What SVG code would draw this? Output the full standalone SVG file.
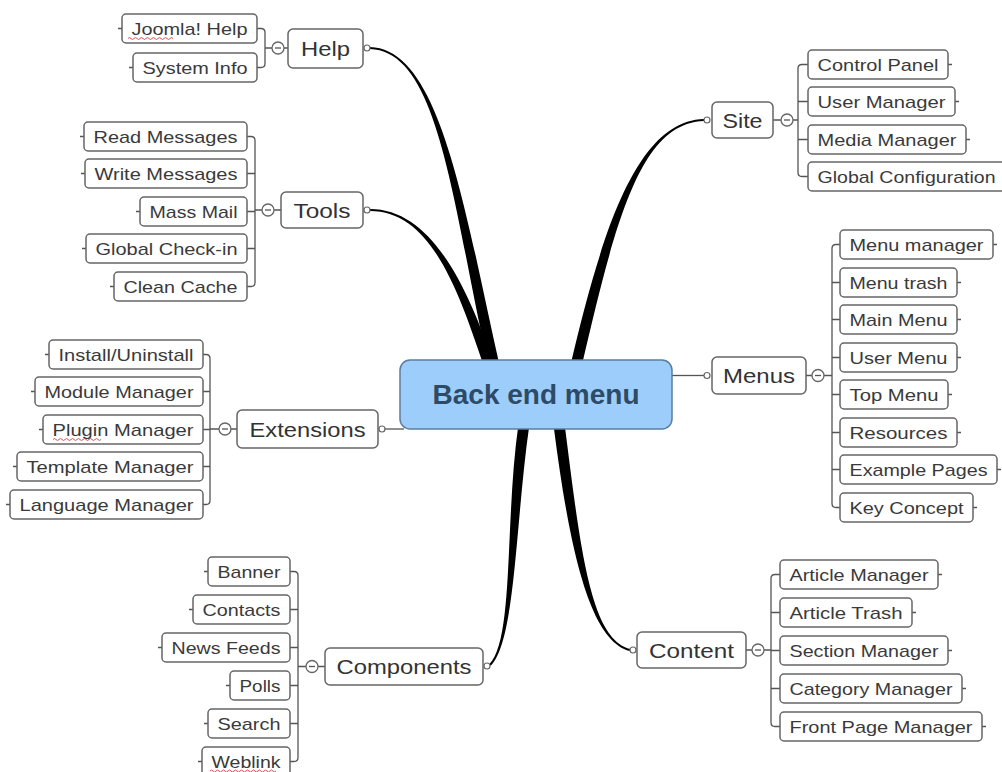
<svg xmlns="http://www.w3.org/2000/svg" width="1002" height="772" viewBox="0 0 1002 772">
<style>
.box{fill:#fff;stroke:#666;stroke-width:1.5}
.t{font-family:"Liberation Sans",Arial,sans-serif;font-size:17px;fill:#3a3a3a;text-anchor:middle}
.m{font-family:"Liberation Sans",Arial,sans-serif;font-size:21px;fill:#333;text-anchor:middle}
.ln{stroke:#555;stroke-width:1.3;fill:none}
.dot{fill:#fff;stroke:#666;stroke-width:1.2}
.col{fill:#fff;stroke:#666;stroke-width:1.3}
.thick{fill:#000}
.sq{fill:none;stroke:#e05050;stroke-width:1}
</style>
<rect width="1002" height="772" fill="#fff"/>
<g id="connectors">
  <path class="thick" d="M370,47 C440,49 463.4,203.8 499.4,364.8 L488.6,367.2 C452.6,206.2 440,51 370,49 Z"/>
  <path class="thick" d="M370,209 C430,209 466.8,283.4 493.8,364.4 L484.3,367.6 C457.3,286.6 430,211 370,211 Z"/>
  <path class="thick" d="M704,119 C640,121 604.6,218.8 570.6,364.8 L581.4,367.3 C615.4,221.3 640,123 704,121 Z"/>
  <path class="thick" d="M489.3,664.3 C514.3,639.3 504.6,519.2 518.6,423.2 L529.4,424.8 C515.4,520.8 515.7,640.7 490.7,665.7 Z"/>
  <path class="thick" d="M629.8,651 C589.8,641 569.5,550.7 553.5,424.7 L564.5,423.3 C580.5,549.3 590.2,639 630.2,649 Z"/>
  <path class="ln" d="M672,375.5 H704"/>
  <path class="ln" d="M385,429 H404"/>
  <!-- Help -->
  <path class="ln" d="M257,28.5 H261 Q265,28.5 265,32.5 V63.5 Q265,67.5 261,67.5 H257 M265,48 H272 M284,48 H288"/>
  <!-- Tools -->
  <path class="ln" d="M247,136.5 H251 Q255,136.5 255,140.5 V282.5 Q255,286.5 251,286.5 H247 M247,173.5 H255 M247,211.5 H255 M247,248.5 H255 M255,210 H262 M274,210 H281"/>
  <!-- Extensions -->
  <path class="ln" d="M203,354.5 H206 Q210,354.5 210,358.5 V500.5 Q210,504.5 206,504.5 H203 M203,391.5 H210 M203,429.5 H210 M203,466.5 H210 M210,429 H219 M231,429 H237"/>
  <!-- Components -->
  <path class="ln" d="M290,571.5 H294 Q298,571.5 298,575.5 V757.5 Q298,761.5 294,761.5 H290 M290,609.5 H298 M290,647.5 H298 M290,685.5 H298 M290,723.5 H298 M298,666.5 H306 M318,666.5 H325"/>
  <!-- Site -->
  <path class="ln" d="M808,64.5 H802 Q798,64.5 798,68.5 V172.5 Q798,176.5 802,176.5 H808 M798,101.5 H808 M798,139.5 H808 M773,120 H781 M793,120 H798"/>
  <!-- Menus -->
  <path class="ln" d="M840,244.5 H836 Q832,244.5 832,248.5 V503.5 Q832,507.5 836,507.5 H840 M832,282.5 H840 M832,319.5 H840 M832,357.5 H840 M832,394.5 H840 M832,432.5 H840 M832,469.5 H840 M806,375.5 H812 M824,375.5 H832"/>
  <!-- Content -->
  <path class="ln" d="M780,574.5 H775 Q771,574.5 771,578.5 V722.5 Q771,726.5 775,726.5 H780 M771,612.5 H780 M771,650.5 H780 M771,688.5 H780 M746,650 H752 M764,650 H771"/>
  <!-- leaf outer stubs -->
  <path class="ln" d="M118,28.5 H122 M129,67.5 H133 M80,136.5 H84 M81,173.5 H85 M136,211.5 H140 M82,248.5 H86 M110,286.5 H114 M45,354.5 H49 M31,391.5 H35 M39,429.5 H43 M13,466.5 H17 M6,504.5 H10 M204,571.5 H208 M189,609.5 H193 M158,647.5 H162 M226,685.5 H230 M204,723.5 H208 M198,761.5 H202 M948,64.5 H952 M955,101.5 H959 M966,139.5 H970 M993,244.5 H997 M957,282.5 H961 M957,319.5 H961 M957,357.5 H961 M948,394.5 H952 M957,432.5 H961 M997,469.5 H1001 M973,507.5 H977 M938,574.5 H942 M912,612.5 H916 M948,650.5 H952 M962,688.5 H966 M982,726.5 H986"/>
  <!-- connector dots -->
  <circle class="dot" cx="367" cy="48" r="3"/>
  <circle class="dot" cx="367" cy="210" r="3"/>
  <circle class="dot" cx="382" cy="429" r="3"/>
  <circle class="dot" cx="487" cy="666" r="3"/>
  <circle class="dot" cx="707" cy="120" r="3"/>
  <circle class="dot" cx="707" cy="375.5" r="3"/>
  <circle class="dot" cx="633" cy="650" r="3"/>
  <!-- collapse buttons -->
  <g>
    <circle class="col" cx="278" cy="48" r="6"/><path class="ln" d="M275,48 H281"/>
    <circle class="col" cx="268" cy="210" r="6"/><path class="ln" d="M265,210 H271"/>
    <circle class="col" cx="225" cy="429" r="6"/><path class="ln" d="M222,429 H228"/>
    <circle class="col" cx="312" cy="666.5" r="6"/><path class="ln" d="M309,666.5 H315"/>
    <circle class="col" cx="787" cy="120" r="6"/><path class="ln" d="M784,120 H790"/>
    <circle class="col" cx="818" cy="375.5" r="6"/><path class="ln" d="M815,375.5 H821"/>
    <circle class="col" cx="758" cy="650" r="6"/><path class="ln" d="M755,650 H761"/>
  </g>
</g>
<g id="center">
  <rect x="400" y="360" width="272" height="69" rx="10" fill="#9dcdfa" stroke="#5b7d9f" stroke-width="1.5"/>
  <text x="536" y="404" font-family="Liberation Sans, Arial, sans-serif" font-size="27" font-weight="bold" fill="#2d4a66" text-anchor="middle" textLength="207" lengthAdjust="spacingAndGlyphs">Back end menu</text>
</g>
<g id="help"><rect class="box" x="288" y="29" width="75" height="39" rx="5"/><text class="m" x="325.5" y="56" textLength="49" lengthAdjust="spacingAndGlyphs">Help</text></g>
<g id="tools"><rect class="box" x="281" y="192" width="82" height="36" rx="5"/><text class="m" x="322" y="217.5" textLength="57" lengthAdjust="spacingAndGlyphs">Tools</text></g>
<g id="extensions"><rect class="box" x="237" y="410" width="141" height="38" rx="5"/><text class="m" x="307.5" y="436.5" textLength="116" lengthAdjust="spacingAndGlyphs">Extensions</text></g>
<g id="components"><rect class="box" x="325" y="648" width="158" height="37" rx="5"/><text class="m" x="404" y="674" textLength="135" lengthAdjust="spacingAndGlyphs">Components</text></g>
<g id="site"><rect class="box" x="712" y="102" width="61" height="36" rx="5"/><text class="m" x="742.5" y="127.5" textLength="40" lengthAdjust="spacingAndGlyphs">Site</text></g>
<g id="menus"><rect class="box" x="712" y="357" width="94" height="37" rx="5"/><text class="m" x="759" y="383" textLength="72" lengthAdjust="spacingAndGlyphs">Menus</text></g>
<g id="content"><rect class="box" x="637" y="632" width="109" height="36" rx="5"/><text class="m" x="691.5" y="657.5" textLength="85" lengthAdjust="spacingAndGlyphs">Content</text></g>

<g id="joomla-help"><rect class="box" x="122" y="14" width="135" height="29" rx="4"/><text class="t" x="189.5" y="34.5" textLength="116" lengthAdjust="spacingAndGlyphs">Joomla! Help</text><path class="sq" d="M128,38.5 q1.5,-2 3,0 t3,0 t3,0 t3,0 t3,0 t3,0 t3,0 t3,0 t3,0 t3,0 t3,0 t3,0 t3,0 t3,0 t3,0"/></g>
<g id="system-info"><rect class="box" x="133" y="53" width="124" height="29" rx="4"/><text class="t" x="195" y="73.5" textLength="105" lengthAdjust="spacingAndGlyphs">System Info</text></g>
<g id="read-messages"><rect class="box" x="84" y="122" width="163" height="29" rx="4"/><text class="t" x="165.5" y="142.5" textLength="144" lengthAdjust="spacingAndGlyphs">Read Messages</text></g>
<g id="write-messages"><rect class="box" x="85" y="159" width="162" height="29" rx="4"/><text class="t" x="166" y="179.5" textLength="143" lengthAdjust="spacingAndGlyphs">Write Messages</text></g>
<g id="mass-mail"><rect class="box" x="140" y="197" width="107" height="29" rx="4"/><text class="t" x="193.5" y="217.5" textLength="88" lengthAdjust="spacingAndGlyphs">Mass Mail</text></g>
<g id="global-checkin"><rect class="box" x="86" y="234" width="161" height="29" rx="4"/><text class="t" x="166.5" y="254.5" textLength="142" lengthAdjust="spacingAndGlyphs">Global Check-in</text></g>
<g id="clean-cache"><rect class="box" x="114" y="272" width="133" height="29" rx="4"/><text class="t" x="180.5" y="292.5" textLength="114" lengthAdjust="spacingAndGlyphs">Clean Cache</text></g>
<g id="install-uninstall"><rect class="box" x="49" y="340" width="154" height="29" rx="4"/><text class="t" x="126" y="360.5" textLength="135" lengthAdjust="spacingAndGlyphs">Install/Uninstall</text></g>
<g id="module-manager"><rect class="box" x="35" y="377" width="168" height="29" rx="4"/><text class="t" x="119" y="397.5" textLength="149" lengthAdjust="spacingAndGlyphs">Module Manager</text></g>
<g id="plugin-manager"><rect class="box" x="43" y="415" width="160" height="29" rx="4"/><text class="t" x="123" y="435.5" textLength="141" lengthAdjust="spacingAndGlyphs">Plugin Manager</text><path class="sq" d="M53,439.5 q1.5,-2 3,0 t3,0 t3,0 t3,0 t3,0 t3,0 t3,0 t3,0 t3,0 t3,0 t3,0 t3,0 t3,0 t3,0 t3,0 t3,0"/></g>
<g id="template-manager"><rect class="box" x="17" y="452" width="186" height="29" rx="4"/><text class="t" x="110" y="472.5" textLength="167" lengthAdjust="spacingAndGlyphs">Template Manager</text></g>
<g id="language-manager"><rect class="box" x="10" y="490" width="193" height="29" rx="4"/><text class="t" x="106.5" y="510.5" textLength="174" lengthAdjust="spacingAndGlyphs">Language Manager</text></g>
<g id="banner"><rect class="box" x="208" y="557" width="82" height="29" rx="4"/><text class="t" x="249" y="577.5" textLength="63" lengthAdjust="spacingAndGlyphs">Banner</text></g>
<g id="contacts"><rect class="box" x="193" y="595" width="97" height="29" rx="4"/><text class="t" x="241.5" y="615.5" textLength="78" lengthAdjust="spacingAndGlyphs">Contacts</text></g>
<g id="news-feeds"><rect class="box" x="162" y="633" width="128" height="29" rx="4"/><text class="t" x="226" y="653.5" textLength="109" lengthAdjust="spacingAndGlyphs">News Feeds</text></g>
<g id="polls"><rect class="box" x="230" y="671" width="60" height="29" rx="4"/><text class="t" x="260" y="691.5" textLength="41" lengthAdjust="spacingAndGlyphs">Polls</text></g>
<g id="search"><rect class="box" x="208" y="709" width="82" height="29" rx="4"/><text class="t" x="249" y="729.5" textLength="63" lengthAdjust="spacingAndGlyphs">Search</text></g>
<g id="weblink"><rect class="box" x="202" y="747" width="88" height="29" rx="4"/><text class="t" x="246" y="767.5" textLength="69" lengthAdjust="spacingAndGlyphs">Weblink</text><path class="sq" d="M210,771 q1.5,-2 3,0 t3,0 t3,0 t3,0 t3,0 t3,0 t3,0 t3,0 t3,0 t3,0 t3,0 t3,0 t3,0 t3,0 t3,0 t3,0 t3,0 t3,0 t3,0 t3,0 t3,0 t3,0"/></g>
<g id="control-panel"><rect class="box" x="808" y="50" width="140" height="29" rx="4"/><text class="t" x="878" y="70.5" textLength="121" lengthAdjust="spacingAndGlyphs">Control Panel</text></g>
<g id="user-manager"><rect class="box" x="808" y="87" width="147" height="29" rx="4"/><text class="t" x="881.5" y="107.5" textLength="128" lengthAdjust="spacingAndGlyphs">User Manager</text></g>
<g id="media-manager"><rect class="box" x="808" y="125" width="158" height="29" rx="4"/><text class="t" x="887" y="145.5" textLength="139" lengthAdjust="spacingAndGlyphs">Media Manager</text></g>
<g id="global-configuration"><rect class="box" x="808" y="162" width="197" height="29" rx="4"/><text class="t" x="906.5" y="182.5" textLength="178" lengthAdjust="spacingAndGlyphs">Global Configuration</text></g>
<g id="menu-manager"><rect class="box" x="840" y="230" width="153" height="29" rx="4"/><text class="t" x="916.5" y="250.5" textLength="134" lengthAdjust="spacingAndGlyphs">Menu manager</text></g>
<g id="menu-trash"><rect class="box" x="840" y="268" width="117" height="29" rx="4"/><text class="t" x="898.5" y="288.5" textLength="98" lengthAdjust="spacingAndGlyphs">Menu trash</text></g>
<g id="main-menu"><rect class="box" x="840" y="305" width="117" height="29" rx="4"/><text class="t" x="898.5" y="325.5" textLength="98" lengthAdjust="spacingAndGlyphs">Main Menu</text></g>
<g id="user-menu"><rect class="box" x="840" y="343" width="117" height="29" rx="4"/><text class="t" x="898.5" y="363.5" textLength="98" lengthAdjust="spacingAndGlyphs">User Menu</text></g>
<g id="top-menu"><rect class="box" x="840" y="380" width="108" height="29" rx="4"/><text class="t" x="894" y="400.5" textLength="89" lengthAdjust="spacingAndGlyphs">Top Menu</text></g>
<g id="resources"><rect class="box" x="840" y="418" width="117" height="29" rx="4"/><text class="t" x="898.5" y="438.5" textLength="98" lengthAdjust="spacingAndGlyphs">Resources</text></g>
<g id="example-pages"><rect class="box" x="840" y="455" width="157" height="29" rx="4"/><text class="t" x="918.5" y="475.5" textLength="138" lengthAdjust="spacingAndGlyphs">Example Pages</text></g>
<g id="key-concept"><rect class="box" x="840" y="493" width="133" height="29" rx="4"/><text class="t" x="906.5" y="513.5" textLength="114" lengthAdjust="spacingAndGlyphs">Key Concept</text></g>
<g id="article-manager"><rect class="box" x="780" y="560" width="158" height="29" rx="4"/><text class="t" x="859" y="580.5" textLength="139" lengthAdjust="spacingAndGlyphs">Article Manager</text></g>
<g id="article-trash"><rect class="box" x="780" y="598" width="132" height="29" rx="4"/><text class="t" x="846" y="618.5" textLength="113" lengthAdjust="spacingAndGlyphs">Article Trash</text></g>
<g id="section-manager"><rect class="box" x="780" y="636" width="168" height="29" rx="4"/><text class="t" x="864" y="656.5" textLength="149" lengthAdjust="spacingAndGlyphs">Section Manager</text></g>
<g id="category-manager"><rect class="box" x="780" y="674" width="182" height="29" rx="4"/><text class="t" x="871" y="694.5" textLength="163" lengthAdjust="spacingAndGlyphs">Category Manager</text></g>
<g id="front-page-manager"><rect class="box" x="780" y="712" width="202" height="29" rx="4"/><text class="t" x="881" y="732.5" textLength="183" lengthAdjust="spacingAndGlyphs">Front Page Manager</text></g>
</svg>
